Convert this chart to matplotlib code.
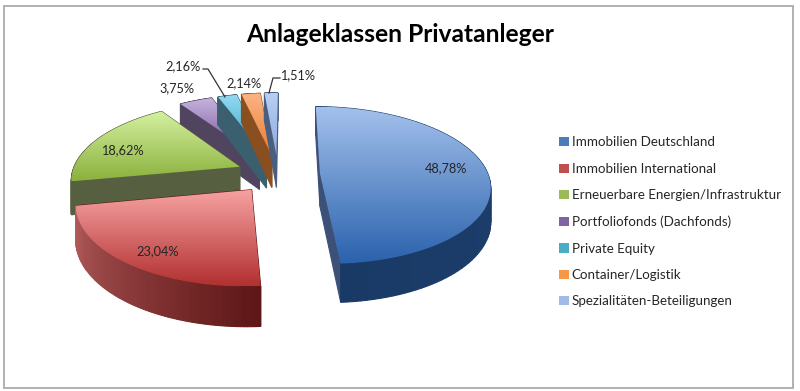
import numpy as np
import matplotlib
matplotlib.use("Agg")
import matplotlib.pyplot as plt
from matplotlib.colors import LinearSegmentedColormap, to_rgb
from matplotlib.patches import Patch, Polygon, Rectangle

# === Data ===
title = "Anlageklassen Privatanleger"
categories = [
    "Immobilien Deutschland",
    "Immobilien International",
    "Erneuerbare Energien/Infrastruktur",
    "Portfoliofonds (Dachfonds)",
    "Private Equity",
    "Container/Logistik",
    "Spezialitäten-Beteiligungen",
]
shares = [48.78, 23.04, 18.62, 3.75, 2.16, 2.14, 1.51]

# === Colours: top light, top dark, cut face, outer wall start, outer wall end ===
top_light = ["#A3C0EC", "#F7A2A2", "#D4F0A0", "#C8B4DE", "#94DAF2", "#FBB486", "#B8D0F4"]
top_dark = ["#2A62AC", "#B23030", "#8BB13C", "#6C4A94", "#2E9EC0", "#E87C2E", "#8CAADE"]
cut_face = ["#3C5078", "#5E1616", "#566040", "#50445F", "#3A6070", "#8A4F20", "#4A5E80"]
wall_a = ["#1F4272", "#5E1616", "#566040", "#50445F", "#3A6070", "#8A4F20", "#4A5E80"]
wall_b = ["#1A3A66", "#B86060", "#566040", "#50445F", "#3A6070", "#8A4F20", "#4A5E80"]
legend_cols = ["#4A7EBB", "#C0504D", "#9BBB59", "#8064A2", "#4BACC6", "#F79646", "#A0BCE6"]

# === Projection of the tilted pie ===
cx, cy = 278, 174
ax_a, ax_b = 168, 77
persp = 0.15
depth = 33
explode = 0.25
start = 0.5


def project(u, v, z=0.0):
    s = 1 / (1 - persp * v)
    return cx + ax_a * u * s, cy + ax_b * v * s + depth * z * s


fig = plt.figure(figsize=(8, 3.91), dpi=100)
ax = fig.add_axes([0, 0, 1, 1])
ax.set_xlim(0, 800)
ax.set_ylim(391, 0)
ax.axis("off")

ax.add_patch(Rectangle((4, 6), 789, 382, fill=False, ec="#b0b0b0", lw=1.4, zorder=0))

angles = np.concatenate([[0], np.cumsum(shares)]) / sum(shares) * 360 + start
z = 1


def face(pts, color):
    global z
    ax.add_patch(Polygon(pts, closed=True, fc=color, ec=color, lw=0.8, zorder=z))
    z += 1


for i in [3, 4, 5, 6, 2, 0, 1]:
    t0, t1 = np.radians(angles[i]), np.radians(angles[i + 1])
    tm = (t0 + t1) / 2
    ou, ov = explode * np.sin(tm), -explode * np.cos(tm)
    th = np.linspace(t0, t1, 90)
    us = ou + np.sin(th)
    vs = ov - np.cos(th)

    # back faces first, front ones later
    faces = []
    for end_t in (t0, t1):
        eu, ev = ou + np.sin(end_t), ov - np.cos(end_t)
        quad = [project(ou, ov), project(eu, ev), project(eu, ev, 1), project(ou, ov, 1)]
        faces.append(((ov + ev) / 2, quad, cut_face[i]))
    ca, cb = np.array(to_rgb(wall_a[i])), np.array(to_rgb(wall_b[i]))
    for k in range(len(th) - 1):
        q = [project(us[k], vs[k]), project(us[k + 1], vs[k + 1]),
             project(us[k + 1], vs[k + 1], 1), project(us[k], vs[k], 1)]
        col = ca + (cb - ca) * k / (len(th) - 2)
        faces.append(((vs[k] + vs[k + 1]) / 2, q, tuple(col)))
    for _, quad, col in sorted(faces, key=lambda r: r[0]):
        face(quad, col)

    # top surface with a vertical gradient
    outline = [project(ou, ov)] + [project(a, b) for a, b in zip(us, vs)]
    poly = Polygon(outline, closed=True, fc="none", ec="none", zorder=z)
    ax.add_patch(poly)
    xs = [p[0] for p in outline]
    ys = [p[1] for p in outline]
    cmap = LinearSegmentedColormap.from_list("g", [top_light[i], top_dark[i]])
    im = ax.imshow(np.linspace(0, 1, 128).reshape(-1, 1), cmap=cmap, aspect="auto",
                   extent=(min(xs), max(xs), max(ys), min(ys)), zorder=z)
    im.set_clip_path(poly)
    z += 1

ax.set_xlim(0, 800)
ax.set_ylim(391, 0)

# === Text ===
font = "Lato"
ax.text(400, 34, title, ha="center", va="center", fontsize=17.7, fontweight="bold",
        family=font, color="black", zorder=z)

label_xy = [(446, 168), (158, 251), (122, 150), (177, 88), (183, 66), (244, 83), (298, 75)]
for share, (lx, ly) in zip(shares, label_xy):
    ax.text(lx, ly, f"{share:.2f}".replace(".", ",") + "%", ha="center", va="center",
            fontsize=9.2, family=font, color="#262626", zorder=z)

# leader lines
ax.plot([203, 208, 225], [69, 69, 97], color="#333333", lw=0.9, zorder=z)
ax.plot([280, 273, 269], [78, 78, 93], color="#333333", lw=0.9, zorder=z)

handles = [Patch(fc=c, ec="none") for c in legend_cols]
ax.legend(handles, categories, loc="upper left", bbox_to_anchor=(0.699, 0.651), frameon=False,
          prop={"family": font, "size": 9.6}, labelspacing=1.08, handlelength=0.7,
          handleheight=0.7, handletextpad=0.25, labelcolor="#262626", borderpad=0,
          borderaxespad=0)

fig.savefig("out.png", dpi=100)
